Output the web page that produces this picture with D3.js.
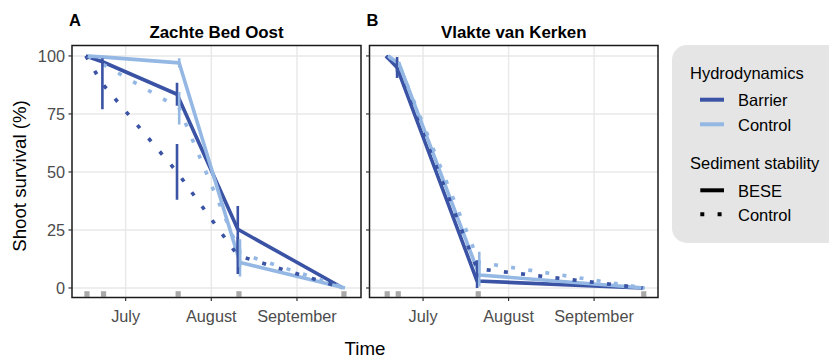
<!DOCTYPE html>
<html>
<head>
<meta charset="utf-8">
<script src="https://cdn.jsdelivr.net/npm/d3@7"></script>
<style>
  html, body { margin: 0; padding: 0; background: #ffffff; }
  svg { display: block; }
  text { font-family: "Liberation Sans", Arial, Helvetica, sans-serif; }
</style>
</head>
<body>
<svg id="chart" width="829" height="358"></svg>
<script>
// ---------------- DATA ----------------
const monthTicks = ["2019-07-01", "2019-08-01", "2019-09-01"];
const monthLabels = ["July", "August", "September"];
const yTicks = [0, 25, 50, 75, 100];

const panelTitles = ["Zachte Bed Oost", "Vlakte van Kerken"];
const panelLetters = ["A", "B"];

// Panel A: Zachte Bed Oost
const datesA = ["2019-06-17", "2019-06-23", "2019-07-20", "2019-08-11", "2019-09-18"];
const barrierBeseA   = [100, 97.5, 83.5, 25.3, 0];
const barrierCtrlA   = [100, 88,   50,   14,   0];
const controlBeseA   = [100, 99.5, 97,   11,   0];
const controlCtrlA   = [100, 96,   77.5, 15,   0];
const seBarrierBeseA = [0, 0,  5,  10, 0];
const seBarrierCtrlA = [0, 11, 12, 8,  0];
const seControlBeseA = [0, 0,  2,  6,  0];
const seControlCtrlA = [0, 0,  7,  6,  0];

// Panel B: Vlakte van Kerken
const datesB = ["2019-06-18", "2019-06-22", "2019-07-21", "2019-09-19"];
const barrierBeseB   = [100, 95,   3,    0];
const barrierCtrlB   = [100, 95,   8.3,  0];
const controlBeseB   = [100, 96.5, 5.6,  0];
const controlCtrlB   = [100, 96,   11,   0];
const seBarrierBeseB = [0, 4.5, 3,   0];
const seBarrierCtrlB = [0, 2,   3.7, 0];
const seControlBeseB = [0, 1,   5,   0];
const seControlCtrlB = [0, 1,   4.6, 0];

const hydroLevels = ["Barrier", "Control"];
const sedimentLevels = ["BESE", "Control"];

// ---------------- STYLE ----------------
const colHydro = { Barrier: "#3a53a4", Control: "#94b8e3" };
const dashSed = { BESE: null, Control: "4 13.3" };
const dodgeDays = { Barrier: -0.4, Control: 0.4 };
const lineW = 3.6;

const svg = d3.select("#chart");
const parse = d3.timeParse("%Y-%m-%d");
const jul1 = parse("2019-07-01");

const panelTop = 45.5, panelBottom = 297.5;
const panels = [
  { x0: 72, x1: 361, dates: datesA,
    series: [
      { hydro: "Barrier", sed: "BESE", v: barrierBeseA, se: seBarrierBeseA },
      { hydro: "Control", sed: "BESE", v: controlBeseA, se: seControlBeseA },
      { hydro: "Barrier", sed: "Control", v: barrierCtrlA, se: seBarrierCtrlA },
      { hydro: "Control", sed: "Control", v: controlCtrlA, se: seControlCtrlA }
    ] },
  { x0: 369.5, x1: 658, dates: datesB,
    series: [
      { hydro: "Barrier", sed: "BESE", v: barrierBeseB, se: seBarrierBeseB },
      { hydro: "Control", sed: "BESE", v: controlBeseB, se: seControlBeseB },
      { hydro: "Barrier", sed: "Control", v: barrierCtrlB, se: seBarrierCtrlB },
      { hydro: "Control", sed: "Control", v: controlCtrlB, se: seControlCtrlB }
    ] }
];

const y = d3.scaleLinear().domain([-4.1, 104.5]).range([panelBottom, panelTop]);
const xDomain = [d3.timeHour.offset(jul1, -19.4 * 24), d3.timeHour.offset(jul1, 85.2 * 24)];

panels.forEach((p, i) => {
  const x = d3.scaleTime().domain(xDomain).range([p.x0, p.x1]);
  const g = svg.append("g");
  const clipId = "clip" + i;
  svg.append("clipPath").attr("id", clipId)
    .append("rect").attr("x", p.x0).attr("y", panelTop)
    .attr("width", p.x1 - p.x0).attr("height", panelBottom - panelTop);

  // grid
  g.selectAll(".hg").data(yTicks).enter().append("line")
    .attr("x1", p.x0).attr("x2", p.x1)
    .attr("y1", d => y(d)).attr("y2", d => y(d))
    .attr("stroke", "#e8e8e8").attr("stroke-width", 1.4);
  g.selectAll(".vg").data(monthTicks).enter().append("line")
    .attr("x1", d => x(parse(d))).attr("x2", d => x(parse(d)))
    .attr("y1", panelTop).attr("y2", panelBottom)
    .attr("stroke", "#e8e8e8").attr("stroke-width", 1.4);

  const content = g.append("g").attr("clip-path", `url(#${clipId})`);

  // sampling date markers
  content.selectAll(".rug").data(p.dates).enter().append("rect")
    .attr("x", d => x(parse(d)) - 2.6).attr("y", y(-2.6) - 2.8)
    .attr("width", 5.2).attr("height", 5.6).attr("fill", "#a9a9a9");

  const xd = (d, hydro) => x(d3.timeHour.offset(parse(d), dodgeDays[hydro] * 24));

  // lines
  p.series.forEach(s => {
    const pts = p.dates.map((d, k) => [xd(d, s.hydro), y(s.v[k])]);
    content.append("path")
      .attr("d", d3.line()(pts))
      .attr("fill", "none")
      .attr("stroke", colHydro[s.hydro])
      .attr("stroke-width", lineW)
      .attr("stroke-linejoin", "round")
      .attr("stroke-linecap", "butt")
      .attr("stroke-dasharray", dashSed[s.sed]);
  });

  // error bars
  p.series.forEach(s => {
    p.dates.forEach((d, k) => {
      if (s.se[k] <= 0) return;
      content.append("line")
        .attr("x1", xd(d, s.hydro)).attr("x2", xd(d, s.hydro))
        .attr("y1", y(s.v[k] + s.se[k])).attr("y2", y(s.v[k] - s.se[k]))
        .attr("stroke", colHydro[s.hydro]).attr("stroke-width", 2.6);
    });
  });

  // border
  g.append("rect").attr("x", p.x0).attr("y", panelTop)
    .attr("width", p.x1 - p.x0).attr("height", panelBottom - panelTop)
    .attr("fill", "none").attr("stroke", "#1a1a1a").attr("stroke-width", 1.5);

  // x ticks + labels
  g.selectAll(".xt").data(monthTicks).enter().append("line")
    .attr("x1", d => x(parse(d))).attr("x2", d => x(parse(d)))
    .attr("y1", panelBottom).attr("y2", panelBottom + 3.5)
    .attr("stroke", "#333").attr("stroke-width", 1.2);
  g.selectAll(".xl").data(monthTicks).enter().append("text")
    .attr("x", d => x(parse(d))).attr("y", 322)
    .attr("text-anchor", "middle").attr("font-size", 16.3).attr("fill", "#4d4d4d")
    .text((d, k) => monthLabels[k]);

  // y ticks
  g.selectAll(".yt").data(yTicks).enter().append("line")
    .attr("x1", p.x0 - 3.5).attr("x2", p.x0)
    .attr("y1", d => y(d)).attr("y2", d => y(d))
    .attr("stroke", "#333").attr("stroke-width", 1.2);
  if (i === 0) {
    g.selectAll(".yl").data(yTicks).enter().append("text")
      .attr("x", p.x0 - 7).attr("y", d => y(d) + 5.8)
      .attr("text-anchor", "end").attr("font-size", 16.3).attr("fill", "#4d4d4d")
      .text(d => d);
  }

  // titles
  g.append("text").attr("x", (p.x0 + p.x1) / 2).attr("y", 38.3)
    .attr("text-anchor", "middle").attr("font-size", 16.9).attr("font-weight", "bold")
    .attr("fill", "#000").text(panelTitles[i]);
  g.append("text").attr("x", p.x0 - 3).attr("y", 25.7)
    .attr("font-size", 16.5).attr("font-weight", "bold").attr("fill", "#000")
    .text(panelLetters[i]);
});

// axis titles
svg.append("text").attr("x", 365).attr("y", 354.5)
  .attr("text-anchor", "middle").attr("font-size", 18.7).attr("fill", "#000").text("Time");
svg.append("text").attr("transform", "translate(26,176) rotate(-90)")
  .attr("text-anchor", "middle").attr("font-size", 18.7).attr("fill", "#000")
  .text("Shoot survival (%)");

// legend
const lg = svg.append("g");
lg.append("rect").attr("x", 672).attr("y", 45).attr("width", 190).attr("height", 198)
  .attr("rx", 15).attr("fill", "#e5e5e5");
lg.append("text").attr("x", 690).attr("y", 79).attr("font-size", 16.5).attr("fill", "#000").text("Hydrodynamics");
const hydroY = [99.7, 124.3];
hydroLevels.forEach((h, k) => {
  lg.append("line").attr("x1", 700).attr("x2", 724).attr("y1", hydroY[k]).attr("y2", hydroY[k])
    .attr("stroke", colHydro[h]).attr("stroke-width", 4);
  lg.append("text").attr("x", 738).attr("y", hydroY[k] + 6.3).attr("font-size", 16.5).attr("fill", "#000").text(h);
});
lg.append("text").attr("x", 690).attr("y", 169).attr("font-size", 16.5).attr("fill", "#000").text("Sediment stability");
const sedY = [190.3, 214.3];
sedimentLevels.forEach((s, k) => {
  lg.append("line").attr("x1", 700.3).attr("x2", 724).attr("y1", sedY[k]).attr("y2", sedY[k])
    .attr("stroke", "#000").attr("stroke-width", 4)
    .attr("stroke-dasharray", dashSed[s]);
  lg.append("text").attr("x", 738).attr("y", sedY[k] + 6.3).attr("font-size", 16.5).attr("fill", "#000").text(s);
});
</script>
</body>
</html>
